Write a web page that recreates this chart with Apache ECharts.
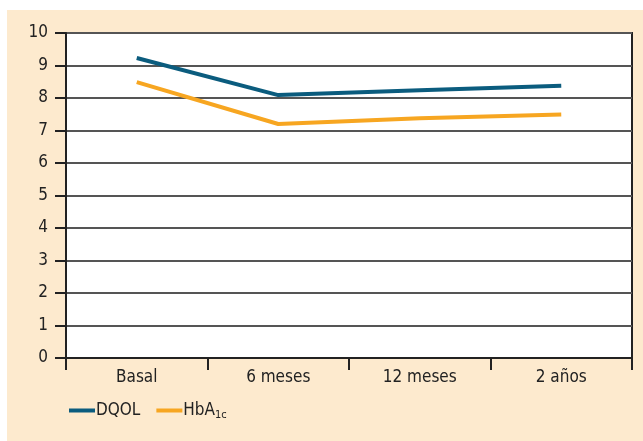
<!DOCTYPE html>
<html>
<head>
<meta charset="utf-8">
<script src="https://cdn.jsdelivr.net/npm/echarts@6/dist/echarts.min.js"></script>
<style>
    html, body { margin: 0; padding: 0; background: #fff; }
    #chart { position: absolute; left: 7px; top: 10px; width: 636px; height: 431px; }
</style>
</head>
<body>
<div id="chart"></div>
<script>
    var categories = ['Basal', '6 meses', '12 meses', '2 años'];
    var dqol = [9.23, 8.09, 8.24, 8.38];
    var hba1c = [8.49, 7.2, 7.38, 7.49];
    var yTicks = [0, 10, 1]; // min, max, interval

    var font = '"Liberation Sans Narrow", "DejaVu Sans Condensed", sans-serif';

    var option = {
        backgroundColor: '#fdeace',
        animation: false,
        textStyle: {
            fontFamily: font
        },
        grid: {
            left: 59,
            right: 11,
            top: 23,
            bottom: 83,
            show: true,
            backgroundColor: '#fff',
            borderColor: '#222',
            borderWidth: 2
        },
        legend: {
            left: 57,
            top: 387,
            icon: 'rect',
            itemWidth: 26,
            itemHeight: 4,
            itemGap: 16,
            data: ['DQOL', 'HbA1c'],
            formatter: function (name) {
                if (name == 'HbA1c') {
                    return '{a|HbA}{s|1c}';
                }
                return '{a|' + name + '}';
            },
            textStyle: {
                rich: {
                    a: { fontSize: 17, color: '#222', fontFamily: font, padding: [0, 0, 0, -4] },
                    s: { fontSize: 11, color: '#222', fontFamily: font, verticalAlign: 'bottom', padding: [10, 0, 0, 0] }
                }
            }
        },
        xAxis: {
            type: 'category',
            data: categories,
            boundaryGap: true,
            axisLine: { lineStyle: { color: '#222', width: 2 } },
            axisTick: { show: true, length: 12, lineStyle: { color: '#222', width: 2 } },
            axisLabel: { fontSize: 17, color: '#222', margin: 11, fontFamily: font }
        },
        yAxis: {
            type: 'value',
            min: yTicks[0],
            max: yTicks[1],
            interval: yTicks[2],
            axisLine: { show: true, lineStyle: { color: '#222', width: 2 } },
            axisTick: { show: true, length: 11, lineStyle: { color: '#222', width: 2 } },
            axisLabel: { fontSize: 17, color: '#222', margin: 18, fontFamily: font },
            splitLine: { lineStyle: { color: '#555', width: 2 } }
        },
        series: [
            {
                name: 'DQOL',
                type: 'line',
                data: dqol,
                symbol: 'none',
                color: '#0b5c7e',
                lineStyle: { width: 4 }
            },
            {
                name: 'HbA1c',
                type: 'line',
                data: hba1c,
                symbol: 'none',
                color: '#f7a621',
                lineStyle: { width: 4 }
            }
        ]
    };

    var myChart = echarts.init(document.getElementById('chart'));
    myChart.setOption(option);
</script>
</body>
</html>
